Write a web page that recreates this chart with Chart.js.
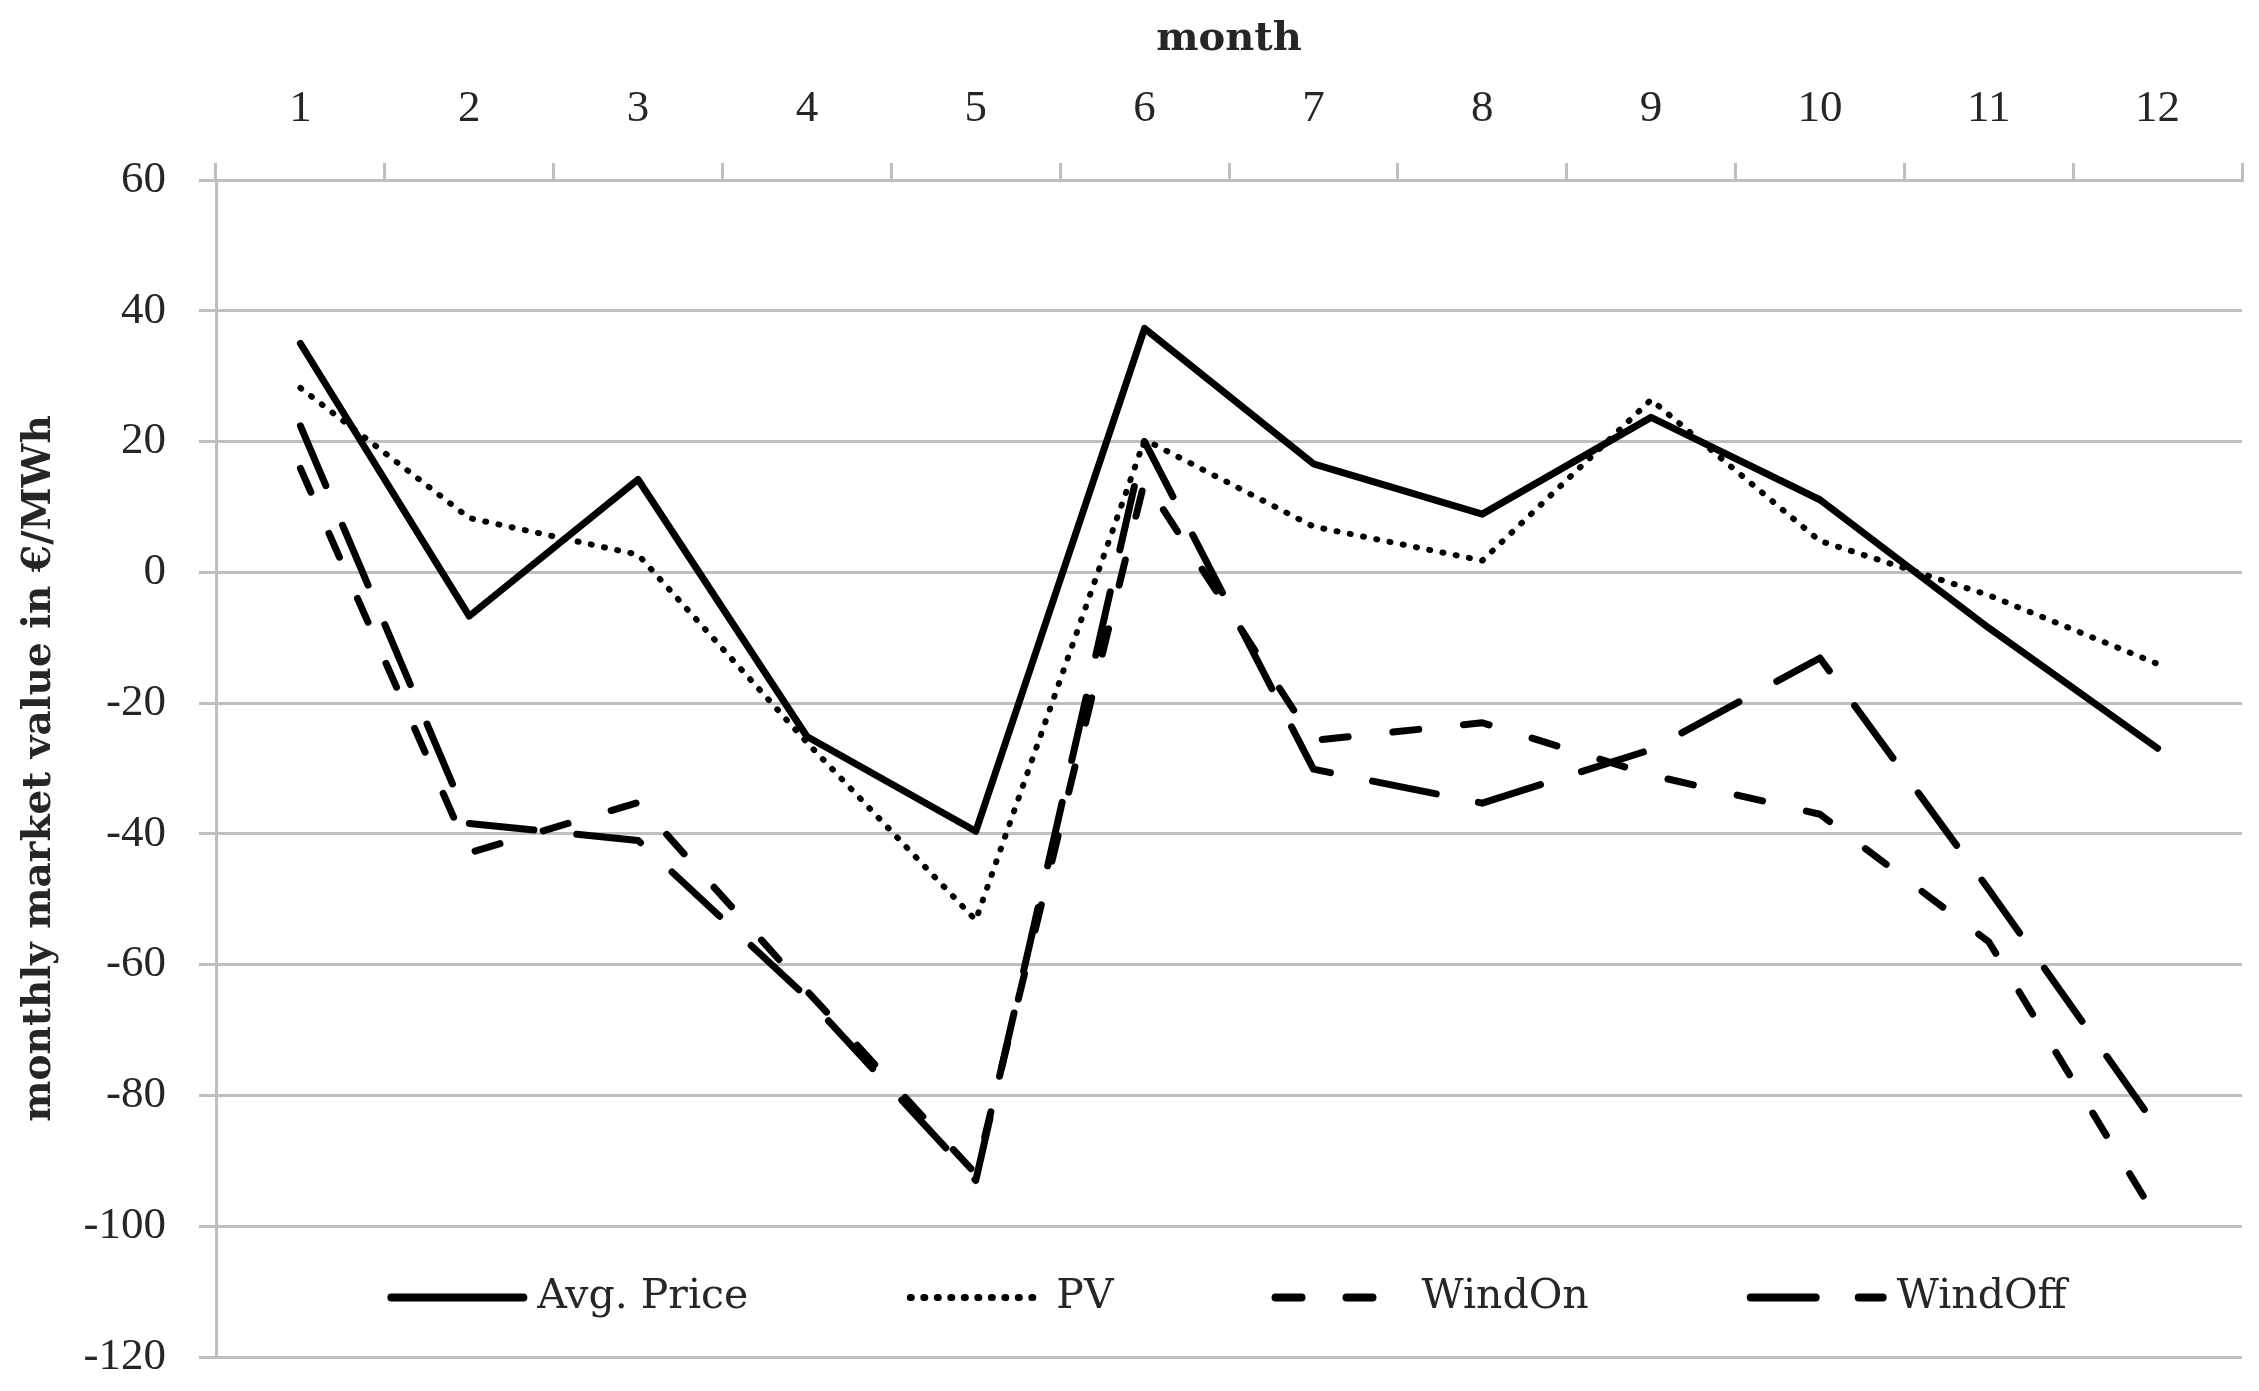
<!DOCTYPE html>
<html>
<head>
<meta charset="utf-8">
<script src="https://cdn.jsdelivr.net/npm/chart.js@4.4.1/dist/chart.umd.min.js"></script>
<style>
  html, body { margin: 0; padding: 0; background: #ffffff; }
  #wrap { width: 2259px; height: 1391px; }
</style>
</head>
<body>
<div id="wrap"><canvas id="c" width="2259" height="1391"></canvas></div>
<script>
// ---- data ----
const months = ['1','2','3','4','5','6','7','8','9','10','11','12'];
const avgPrice = [35, -6.7, 14.2, -25.1, -39.6, 37.3, 16.6, 8.9, 23.7, 11.1, -8.5, -26.9];
const pv       = [28.2, 8.3, 2.7, -26, -53.2, 20.3, 7.0, 1.8, 26.4, 4.8, -3.5, -14];
const windOn   = [15.9, -42.9, -35.2, -64, -92, 14, -25.7, -23, -31, -37, -56.5, -99];
const windOff  = [22.4, -38.4, -41, -65, -93, 20, -30.1, -35.3, -27.1, -13.1, -48.5, -85];
const seriesNames = ['Avg. Price', 'PV', 'WindOn', 'WindOff'];
const yMin = -120, yMax = 60, yStep = 20;
const xTitle = 'month';
const yTitle = 'monthly market value in €/MWh';

const GRID = '#bfbfbf';
const TEXT = '#262626';
const FONT = 'Liberation Serif';
const TFONT = 'DejaVu Serif';

const legendPlugin = {
  id: 'insideLegend',
  afterDraw(chart) {
    const ctx = chart.ctx;
    const area = chart.chartArea;
    const ys = chart.scales.y;
    const y = (ys.getPixelForValue(-100) + ys.getPixelForValue(-120)) / 2 + 6;
    const sampleLen = 132, textGap = 14, itemGap = 162;
    ctx.save();
    ctx.font = '41px "' + TFONT + '"';
    const items = chart.data.datasets.map(ds => ({ ds, w: sampleLen + textGap + ctx.measureText(ds.label).width }));
    const total = items.reduce((s, it) => s + it.w, 0) + itemGap * (items.length - 1);
    let x = (area.left + area.right) / 2 - total / 2;
    items.forEach(it => {
      const ds = it.ds;
      ctx.beginPath();
      ctx.setLineDash(ds.borderDash || []);
      ctx.lineCap = ds.borderCapStyle || 'butt';
      ctx.lineWidth = ds.borderWidth + 1;
      ctx.strokeStyle = ds.borderColor;
      ctx.moveTo(x, y);
      ctx.lineTo(x + sampleLen, y);
      ctx.stroke();
      ctx.setLineDash([]);
      ctx.fillStyle = TEXT;
      ctx.textBaseline = 'middle';
      ctx.textAlign = 'left';
      ctx.fillText(ds.label, x + sampleLen + textGap, y);
      x += it.w + itemGap;
    });
    ctx.restore();
  }
};

const common = { borderColor: '#000000', backgroundColor: '#000000', pointRadius: 0, pointHoverRadius: 0, tension: 0, fill: false, borderJoinStyle: 'round' };

new Chart(document.getElementById('c'), {
  type: 'line',
  data: {
    labels: months,
    datasets: [
      Object.assign({}, common, { label: seriesNames[0], data: avgPrice, borderWidth: 7, borderCapStyle: 'round' }),
      Object.assign({}, common, { label: seriesNames[1], data: pv, borderWidth: 6, borderDash: [1, 12.5], borderCapStyle: 'round' }),
      Object.assign({}, common, { label: seriesNames[2], data: windOn, borderWidth: 7, borderDash: [26, 45], borderCapStyle: 'round' }),
      Object.assign({}, common, { label: seriesNames[3], data: windOff, borderWidth: 7, borderDash: [65, 43], borderCapStyle: 'round' })
    ]
  },
  options: {
    responsive: false,
    devicePixelRatio: 1,
    animation: false,
    layout: { padding: { left: 0, top: 0, right: 17, bottom: 34 } },
    plugins: { legend: { display: false }, tooltip: { enabled: false }, title: { display: false } },
    scales: {
      x: {
        type: 'category',
        position: 'top',
        offset: true,
        grid: { offset: true, drawOnChartArea: false, drawTicks: true, tickLength: 17, color: GRID, lineWidth: 3 },
        border: { display: true, color: GRID, width: 3 },
        ticks: { color: TEXT, padding: 27, font: { family: FONT, size: 45 }, maxRotation: 0, autoSkip: false },
        title: { display: true, text: xTitle, color: TEXT, font: { family: TFONT, size: 40, weight: 'bold' }, padding: { top: 16, bottom: 0 } },
        afterFit(s) { s.height = 180; s.paddingLeft = 0; s.paddingRight = 0; }
      },
      y: {
        min: yMin, max: yMax,
        position: 'left',
        grid: { drawOnChartArea: true, drawTicks: true, tickLength: 17, color: GRID, lineWidth: 3 },
        border: { display: true, color: GRID, width: 3 },
        ticks: { stepSize: yStep, color: TEXT, padding: 33, font: { family: FONT, size: 45 } },
        title: { display: true, text: yTitle, color: TEXT, font: { family: TFONT, size: 39, weight: 'bold' }, padding: { top: 16, bottom: 0 } },
        afterFit(s) { s.width = 216; s.paddingTop = 0; s.paddingBottom = 0; }
      }
    }
  },
  plugins: [legendPlugin]
});
</script>
</body>
</html>
